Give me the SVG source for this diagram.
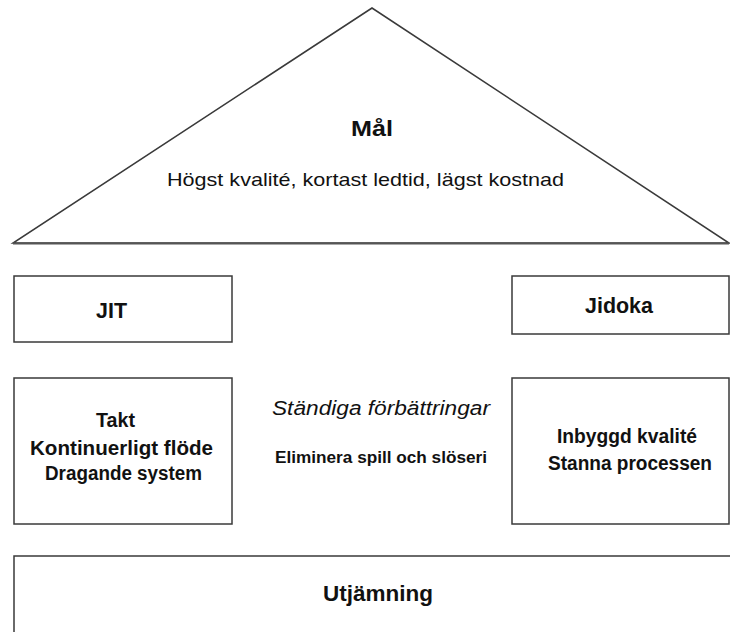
<svg xmlns="http://www.w3.org/2000/svg" width="730" height="632" viewBox="0 0 730 632">
  <style>
    .shape { fill: #ffffff; stroke: #3a3a3a; stroke-width: 1.5; }
    .t { font-family: "Liberation Sans", Arial, sans-serif; fill: #111111; text-anchor: middle; }
    .b { font-weight: bold; }
    .title { font-size: 22px; }
    .line { font-size: 19.5px; }
  </style>
  <rect width="730" height="632" fill="#ffffff"/>

  <!-- roof: goal -->
  <g id="goal">
    <polygon class="shape" points="372,8 13,243 729,243"/>
    <line x1="13" y1="243.5" x2="729" y2="243.5" stroke="#555" stroke-width="2"/>
    <text class="t b title" x="372" y="136" textLength="42" lengthAdjust="spacingAndGlyphs">Mål</text>
    <text class="t" x="365.5" y="186" font-size="18.5" textLength="397" lengthAdjust="spacingAndGlyphs">Högst kvalité, kortast ledtid, lägst kostnad</text>
  </g>

  <!-- left pillar -->
  <g id="jit">
    <rect class="shape" x="14" y="276" width="218" height="66"/>
    <text class="t b title" x="111.5" y="318" textLength="31" lengthAdjust="spacingAndGlyphs">JIT</text>
  </g>
  <g id="jit-parts">
    <rect class="shape" x="14" y="378" width="218" height="146"/>
    <text class="t b line" x="115.5" y="427" textLength="39" lengthAdjust="spacingAndGlyphs">Takt</text>
    <text class="t b line" x="121.5" y="455" textLength="183" lengthAdjust="spacingAndGlyphs">Kontinuerligt flöde</text>
    <text class="t b line" x="123.5" y="480" textLength="157" lengthAdjust="spacingAndGlyphs">Dragande system</text>
  </g>

  <!-- center -->
  <g id="improvement">
    <text class="t" x="381" y="415" font-size="19.5" font-style="italic" textLength="218" lengthAdjust="spacingAndGlyphs">Ständiga förbättringar</text>
    <text class="t b" x="381" y="463" font-size="16" textLength="212" lengthAdjust="spacingAndGlyphs">Eliminera spill och slöseri</text>
  </g>

  <!-- right pillar -->
  <g id="jidoka">
    <rect class="shape" x="512" y="276" width="217" height="58"/>
    <text class="t b title" x="619" y="313" textLength="68" lengthAdjust="spacingAndGlyphs">Jidoka</text>
  </g>
  <g id="jidoka-parts">
    <rect class="shape" x="512" y="378" width="217" height="146"/>
    <text class="t b line" x="627" y="443" textLength="140" lengthAdjust="spacingAndGlyphs">Inbyggd kvalité</text>
    <text class="t b line" x="630" y="470" textLength="164" lengthAdjust="spacingAndGlyphs">Stanna processen</text>
  </g>

  <!-- foundation -->
  <g id="leveling">
    <rect class="shape" x="14" y="556" width="720" height="90"/>
    <text class="t b title" x="378" y="601" textLength="110" lengthAdjust="spacingAndGlyphs">Utjämning</text>
  </g>

  <g id="connectors"></g>
</svg>
